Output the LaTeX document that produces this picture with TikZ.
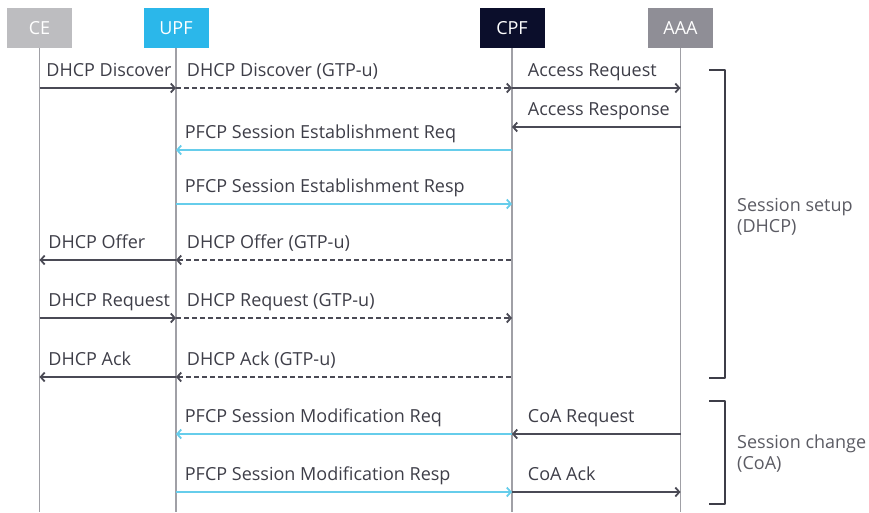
\documentclass[tikz,border=0pt]{standalone}
\usepackage{fontspec}
\setmainfont{Open Sans}
\usetikzlibrary{arrows.meta}
\definecolor{ceGray}{HTML}{BDBDC0}
\definecolor{upfCyan}{HTML}{2BB7EA}
\definecolor{cpfNavy}{HTML}{0B0E2B}
\definecolor{aaaGray}{HTML}{8F8E96}
\definecolor{lifeGray}{HTML}{A0A0A6}
\definecolor{msgGray}{HTML}{4A4A55}
\definecolor{pfcpCyan}{HTML}{66CDEB}
\definecolor{txtGray}{HTML}{3E3E48}
\begin{document}
\begin{tikzpicture}[x=1pt, y=-1pt, line join=round, >={Straight Barb[length=4pt,width=9pt]},
		font=\fontsize{18}{21}\selectfont,
		head/.style={minimum width=65pt, minimum height=40pt, inner sep=0pt, text=white},
		life/.style={draw=lifeGray, line width=1.2pt},
		msg/.style={draw=msgGray, line width=1.8pt, ->},
		gtp/.style={msg, dash pattern=on 5pt off 3pt},
		pfcp/.style={msg, draw=pfcpCyan},
		lbl/.style={anchor=base west, text=txtGray, inner sep=0pt, xshift=8pt, yshift=11.5pt},
		brk/.style={draw=txtGray, line width=1.8pt},
		side/.style={anchor=west, align=left, text=txtGray!85, inner sep=0pt}]
		\useasboundingbox (0,0) rectangle (869,512);
		\node[head, fill=ceGray] (ce) at (39.5,28) {CE};
		\node[head, fill=upfCyan] (upf) at (176,28) {UPF};
		\node[head, fill=cpfNavy] (cpf) at (512,28) {CPF};
		\node[head, fill=aaaGray] (aaa) at (680.5,28) {AAA};
		\coordinate (bottom) at (0,512);
		\foreach \n in {ce,upf,cpf,aaa} \draw[life] (\n.south) -- (\n.south |- bottom);
		\foreach \r/\y in {1/88,2/127,3/150,4/204,5/260,6/318,7/377,8/434,9/492} \coordinate (r\r) at (0,\y);
		% session setup
		\draw[msg] (ce |- r1) -- node[lbl, pos=0, xshift=-2pt]{DHCP Discover} (upf |- r1);
		\draw[gtp] (upf |- r1) -- node[lbl, pos=0, xshift=2pt]{DHCP Discover (GTP-u)} (cpf |- r1);
		\draw[msg] (cpf |- r1) -- node[lbl, pos=0, xshift=7pt]{Access Request} (aaa |- r1);
		\draw[msg, <-] (cpf |- r2) -- node[lbl, pos=0, xshift=7pt]{Access Response} (aaa |- r2);
		\draw[pfcp, <-] (upf |- r3) -- node[lbl, pos=0]{PFCP Session Establishment Req} (cpf |- r3);
		\draw[pfcp] (upf |- r4) -- node[lbl, pos=0]{PFCP Session Establishment Resp} (cpf |- r4);
		\draw[msg, <-] (ce |- r5) -- node[lbl, pos=0]{DHCP Offer} (upf |- r5);
		\draw[gtp, <-] (upf |- r5) -- node[lbl, pos=0, xshift=2pt]{DHCP Offer (GTP-u)} (cpf |- r5);
		\draw[msg] (ce |- r6) -- node[lbl, pos=0]{DHCP Request} (upf |- r6);
		\draw[gtp] (upf |- r6) -- node[lbl, pos=0, xshift=2pt]{DHCP Request (GTP-u)} (cpf |- r6);
		\draw[msg, <-] (ce |- r7) -- node[lbl, pos=0]{DHCP Ack} (upf |- r7);
		\draw[gtp, <-] (upf |- r7) -- node[lbl, pos=0, xshift=2pt]{DHCP Ack (GTP-u)} (cpf |- r7);
		% session change
		\draw[pfcp, <-] (upf |- r8) -- node[lbl, pos=0]{PFCP Session Modification Req} (cpf |- r8);
		\draw[msg, <-] (cpf |- r8) -- node[lbl, pos=0, xshift=7pt]{CoA Request} (aaa |- r8);
		\draw[pfcp] (upf |- r9) -- node[lbl, pos=0]{PFCP Session Modification Resp} (cpf |- r9);
		\draw[msg] (cpf |- r9) -- node[lbl, pos=0, xshift=7pt]{CoA Ack} (aaa |- r9);
		\draw[brk] (709,70) -- (725,70) -- (725,378) -- (709,378);
		\draw[brk] (709,401) -- (725,401) -- (725,504) -- (709,504);
		\node[side] (setup) at (737,217) {Session setup\\(DHCP)};
		\node[side] (change) at (737,454) {Session change\\(CoA)};
	\end{tikzpicture}
\end{document}
